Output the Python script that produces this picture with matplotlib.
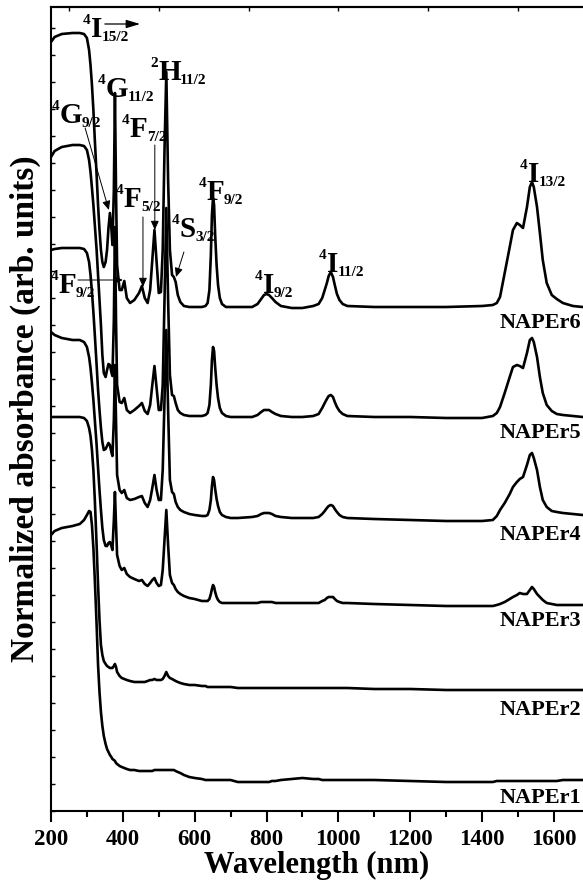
import matplotlib
matplotlib.use("Agg")
from matplotlib import pyplot as plt
from matplotlib.ticker import MultipleLocator

plt.rcParams['font.family'] = 'Liberation Serif'
plt.rcParams['font.weight'] = 'bold'
plt.rcParams['axes.labelweight'] = 'bold'

# wavelength grid (nm) shared by all spectra
wavelength = [200, 210, 230, 260, 280, 292, 300, 306, 310, 314,
              318, 322, 327, 331, 335, 339, 343, 347, 352, 356,
              360, 364, 368, 371, 375, 378, 381, 384,
              391, 397, 404, 411, 420, 432, 445, 453, 461, 469,
              476, 482, 488, 494, 500, 506, 511, 516, 521, 526,
              531, 537, 542, 547, 553, 560, 570, 585,
              600, 620, 630, 636, 641, 645, 648, 651, 654, 657,
              661, 665, 670, 676, 687, 700, 720, 760, 775, 785,
              793, 800, 807, 815, 825, 840, 870, 900, 930, 945,
              955, 962, 968, 973, 979, 985, 990, 996, 1003, 1012,
              1025, 1100, 1200, 1300, 1400, 1430, 1441, 1450, 1463, 1477,
              1486, 1497, 1505, 1514, 1525, 1533, 1539, 1544, 1553, 1561,
              1569, 1580, 1594, 1608, 1625, 1653, 1680]

# stacked absorbance (arb. units)
naper6 = [769, 774, 777, 778, 778, 777, 773, 761, 746, 726,
          701, 671, 636, 606, 581, 561, 549, 544, 549, 561,
          583, 598, 583, 566, 621, 718, 621, 546,
          521, 521, 530, 513, 508, 511, 518, 525, 513, 508,
          521, 551, 581, 549, 518, 519, 561, 661, 739, 631,
          561, 536, 534, 529, 516, 509, 505, 504,
          504, 504, 505, 508, 521, 556, 596, 613, 606, 576,
          546, 526, 513, 507, 504, 504, 504, 504, 507, 512,
          516, 517, 516, 513, 509, 505, 503, 503, 505, 507,
          513, 521, 528, 535, 539, 534, 526, 517, 511, 507,
          505, 504, 504, 504, 505, 506, 508, 514, 538, 564,
          581, 588, 586, 583, 604, 624, 629, 624, 604, 578,
          551, 528, 516, 512, 508, 505, 504]
naper5 = [654, 660, 664, 666, 666, 665, 661, 651, 639, 623,
          606, 586, 561, 536, 511, 486, 456, 438, 434, 441,
          447, 446, 439, 435, 491, 584, 491, 426,
          409, 408, 413, 401, 398, 401, 405, 408, 400, 397,
          406, 426, 445, 423, 401, 401, 426, 511, 603, 511,
          436, 416, 415, 408, 401, 398, 396, 395,
          395, 395, 396, 398, 406, 426, 451, 464, 460, 444,
          426, 413, 403, 398, 395, 394, 394, 394, 396, 399,
          401, 401, 401, 399, 397, 395, 394, 394, 395, 397,
          403, 408, 412, 415, 416, 414, 409, 404, 400, 397,
          395, 394, 394, 393, 393, 395, 398, 404, 418, 434,
          444, 446, 445, 443, 458, 471, 473, 469, 454, 434,
          418, 406, 400, 397, 396, 395, 394]
naper4 = [561, 562, 563, 563, 563, 562, 558, 549, 536, 519,
          499, 476, 446, 421, 401, 383, 369, 361, 362, 365,
          368, 366, 359, 355, 391, 446, 391, 336,
          321, 318, 321, 313, 311, 312, 314, 315, 308, 304,
          311, 323, 336, 321, 311, 311, 341, 411, 481, 401,
          331, 319, 317, 309, 304, 301, 299, 297,
          296, 295, 295, 296, 301, 311, 325, 334, 331, 322,
          312, 305, 299, 296, 294, 293, 293, 294, 295, 297,
          298, 298, 298, 297, 295, 294, 293, 293, 293, 294,
          297, 300, 303, 305, 306, 305, 302, 299, 296, 294,
          293, 292, 291, 290, 290, 291, 295, 301, 308, 317,
          324, 329, 332, 334, 346, 356, 358, 353, 341, 324,
          311, 304, 300, 299, 298, 297, 296]
naper3 = [479, 476, 473, 471, 471, 469, 464, 454, 443, 428,
          411, 391, 366, 343, 321, 301, 283, 271, 265, 265,
          268, 269, 265, 261, 291, 319, 286, 256,
          245, 241, 243, 237, 234, 232, 230, 231, 227, 225,
          228, 231, 233, 228, 225, 226, 241, 271, 301, 266,
          236, 228, 226, 222, 219, 217, 215, 213,
          212, 210, 210, 210, 212, 217, 222, 226, 224, 219,
          214, 211, 209, 208, 208, 208, 208, 208, 208, 209,
          209, 209, 209, 209, 208, 208, 208, 208, 208, 208,
          210, 211, 213, 214, 214, 214, 212, 210, 209, 208,
          208, 207, 206, 205, 205, 205, 206, 207, 209, 212,
          214, 216, 218, 217, 217, 221, 224, 222, 217, 214,
          211, 208, 207, 206, 206, 206, 206]
naper2 = [394, 394, 394, 394, 394, 393, 390, 383, 375, 361,
          341, 311, 266, 226, 191, 166, 156, 150, 147, 145,
          144, 143, 143, 143, 145, 147, 144, 139,
          135, 133, 132, 131, 130, 129, 129, 129, 129, 130,
          131, 131, 132, 131, 131, 131, 132, 135, 139, 135,
          133, 132, 131, 130, 129, 128, 127, 126,
          126, 125, 125, 124, 124, 124, 124, 124, 124, 124,
          124, 124, 124, 124, 124, 124, 123, 123, 123, 123,
          123, 123, 123, 123, 123, 123, 123, 123, 123, 123,
          123, 123, 123, 123, 123, 123, 123, 123, 123, 123,
          123, 122, 122, 121, 121, 121, 121, 121, 121, 121,
          121, 121, 121, 121, 121, 121, 121, 121, 121, 121,
          121, 121, 121, 121, 121, 121, 121]
naper1 = [276, 280, 283, 285, 287, 291, 296, 300, 299, 286,
          263, 231, 186, 146, 119, 99, 85, 75, 67, 62,
          59, 56, 54, 52, 51, 50, 48, 47,
          45, 44, 43, 42, 41, 41, 40, 40, 40, 40,
          40, 40, 41, 41, 41, 41, 41, 41, 41, 41,
          41, 41, 41, 40, 39, 38, 36, 34,
          33, 32, 31, 31, 31, 31, 31, 31, 31, 31,
          31, 31, 31, 31, 31, 31, 29, 29, 29, 29,
          29, 29, 29, 30, 30, 31, 32, 33, 32, 32,
          31, 31, 31, 31, 31, 31, 31, 31, 31, 31,
          31, 31, 30, 29, 29, 29, 30, 30, 30, 30,
          30, 30, 30, 30, 30, 30, 30, 30, 30, 30,
          30, 30, 30, 30, 31, 31, 31]

spectra = [naper1, naper2, naper3, naper4, naper5, naper6]
sample_names = ['NAPEr1', 'NAPEr2', 'NAPEr3', 'NAPEr4', 'NAPEr5', 'NAPEr6']
name_y = [13, 101, 190, 276, 378, 488]

# Er3+ absorption levels from 4I15/2: (superscript, letter, subscript, x, y)
levels = [('4', 'I', '15/2', 311, 774),
          ('4', 'G', '11/2', 353, 714),
          ('2', 'H', '11/2', 498, 731),
          ('4', 'G', '9/2', 225, 688),
          ('4', 'F', '7/2', 420, 674),
          ('4', 'F', '5/2', 403, 604),
          ('4', 'S', '3/2', 559, 574),
          ('4', 'F', '9/2', 222, 518),
          ('4', 'F', '9/2', 634, 611),
          ('4', 'I', '9/2', 790, 518),
          ('4', 'I', '11/2', 968, 539),
          ('4', 'I', '13/2', 1527, 629)]

# pointer arrows: (tail x, tail y, tip x, tip y)
arrows = [(295, 683, 361, 601),
          (489, 666, 489, 581),
          (456, 594, 456, 524),
          (570, 559, 548, 534),
          (275, 531, 400, 531)]

fig = plt.figure(figsize=(5.83, 8.81), dpi=100)
ax = fig.add_axes([51 / 583, 70 / 881, 532 / 583, 804 / 881])

for s in spectra:
    ax.plot(wavelength, s, color='black', lw=1.9, solid_joinstyle='round')

for name, y in zip(sample_names, name_y):
    ax.text(1450, y, name, fontsize=16, ha='left', va='center')

for sup, letter, sub, x, y in levels:
    t = ax.text(x, y, letter, fontsize=21, ha='left', va='baseline')
    ax.annotate(sup, xy=(0, 0), xycoords=t, xytext=(-0.3, 11.5),
                textcoords='offset points', ha='right', va='bottom', fontsize=11)
    ax.annotate(sub, xy=(1, 0), xycoords=t, xytext=(-0.5, -0.7),
                textcoords='offset points', ha='left', va='bottom', fontsize=11)

ax.annotate('', xy=(448, 787), xytext=(350, 787),
            arrowprops=dict(arrowstyle='-|>,head_length=0.6,head_width=0.18',
                            color='black', lw=0.9, mutation_scale=14,
                            shrinkA=0, shrinkB=0))
for x0, y0, x1, y1 in arrows:
    ax.annotate('', xy=(x1, y1), xytext=(x0, y0),
                arrowprops=dict(arrowstyle='-|>,head_length=0.45,head_width=0.2',
                                color='black', lw=0.7, mutation_scale=12,
                                shrinkA=0, shrinkB=0))

ax.set_xlim(200, 1681)
ax.set_ylim(0, 804)
ax.spines['right'].set_visible(False)
for side in ['left', 'bottom', 'top']:
    ax.spines[side].set_linewidth(1.5)

ax.xaxis.set_major_locator(MultipleLocator(200))
ax.xaxis.set_minor_locator(MultipleLocator(100))
ax.tick_params(axis='x', which='major', direction='out', length=8, width=1.5,
               labelsize=16.5, pad=5)
ax.tick_params(axis='x', which='minor', direction='out', length=4.5, width=1.5)
ax.yaxis.set_major_locator(MultipleLocator(27))
ax.tick_params(axis='y', which='both', direction='in', length=3, width=1,
               labelleft=False)

top = ax.secondary_xaxis('top')
top.set_xticks([250, 500, 750, 1000, 1250, 1500])
top.tick_params(direction='in', length=3, width=1, labeltop=False)
top.spines['top'].set_linewidth(1.5)

ax.set_xlabel('Wavelength (nm)', fontsize=22, labelpad=0.5)
ax.set_ylabel('Normalized absorbance (arb. units)', fontsize=24, labelpad=7)

fig.savefig('out.png', dpi=100)
